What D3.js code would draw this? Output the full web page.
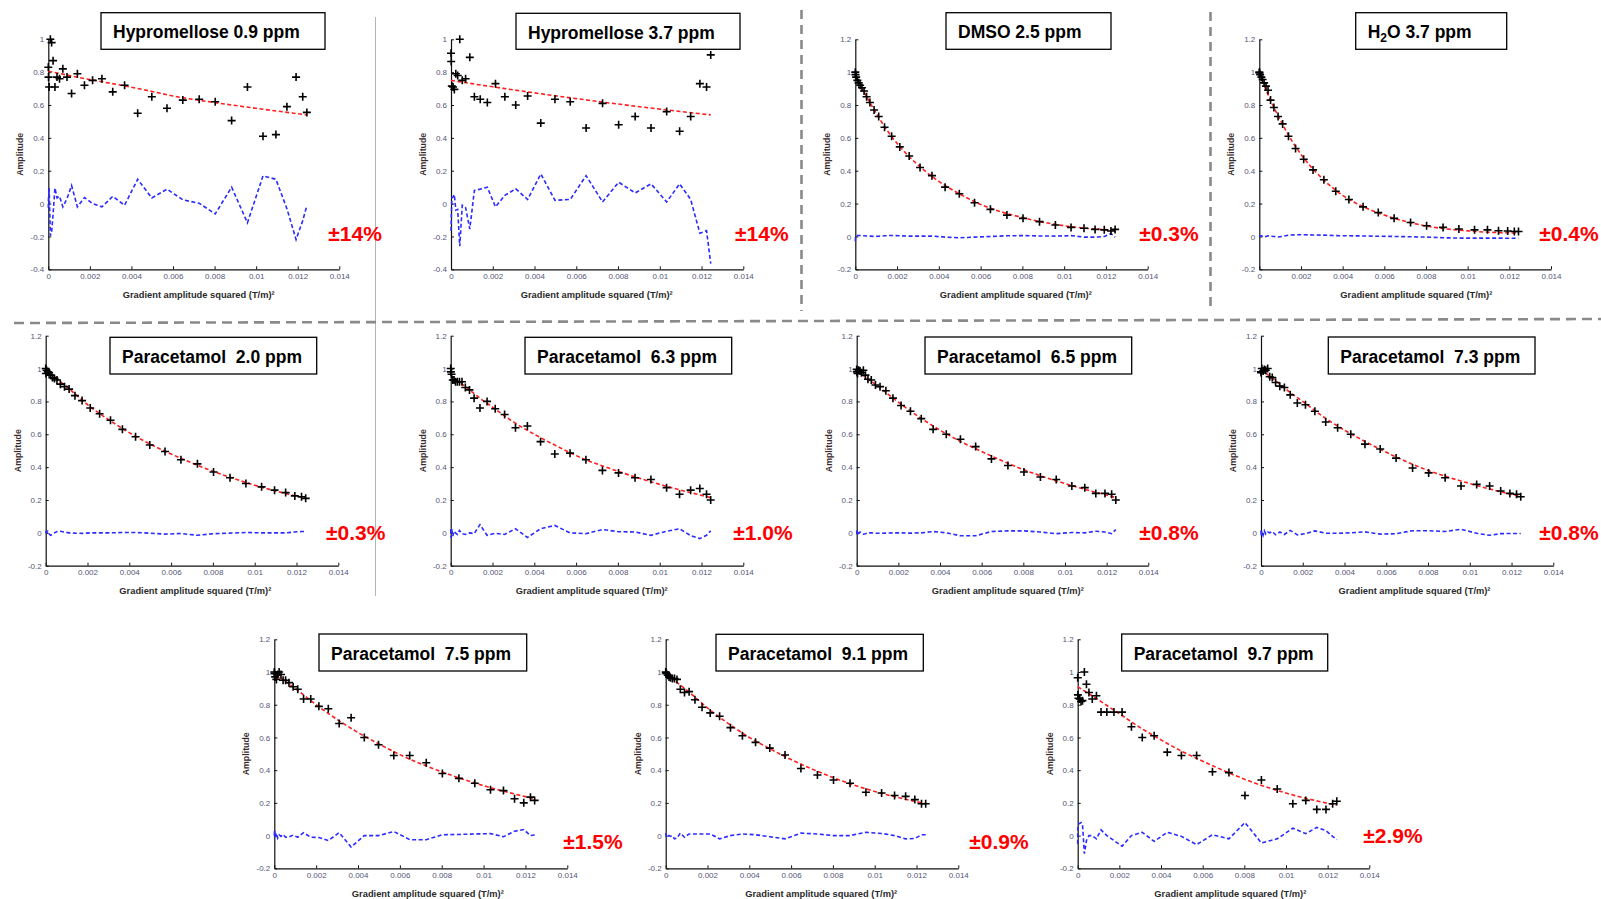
<!DOCTYPE html>
<html><head><meta charset="utf-8">
<script src="https://cdn.jsdelivr.net/npm/d3@7"></script>
<style>
html,body{margin:0;padding:0;background:#fff;}
svg{display:block;}
</style></head>
<body><svg id="chart" width="1601" height="899"></svg>
<script>
// ---------- DATA ----------
const gradientSq = [0, 0.00001, 0.00004, 0.0001, 0.00016, 0.00023, 0.00032, 0.00042, 0.00054, 0.0007, 0.0009, 0.00112,
  0.0014, 0.00174, 0.00213, 0.00258, 0.0031, 0.00367, 0.0043, 0.00498, 0.00571, 0.00647, 0.00726, 0.00803,
  0.00882, 0.00958, 0.01033, 0.01095, 0.01148, 0.01192, 0.01224, 0.01244];
const fitGradientSq = [0, 0.0005, 0.001, 0.0015, 0.002, 0.003, 0.004, 0.005, 0.006, 0.008, 0.010, 0.01244];

const xTickValues = [0, 0.002, 0.004, 0.006, 0.008, 0.010, 0.012, 0.014];
const xTickLabels = ["0", "0.002", "0.004", "0.006", "0.008", "0.01", "0.012", "0.014"];
const yTickValuesA = [-0.4, -0.2, 0, 0.2, 0.4, 0.6, 0.8, 1];
const yTickLabelsA = ["-0.4", "-0.2", "0", "0.2", "0.4", "0.6", "0.8", "1"];
const yTickValuesB = [-0.2, 0, 0.2, 0.4, 0.6, 0.8, 1, 1.2];
const yTickLabelsB = ["-0.2", "0", "0.2", "0.4", "0.6", "0.8", "1", "1.2"];

const titles = ["Hypromellose 0.9 ppm", "Hypromellose 3.7 ppm", "DMSO 2.5 ppm", "H2O 3.7 ppm",
  "Paracetamol  2.0 ppm", "Paracetamol  6.3 ppm", "Paracetamol  6.5 ppm", "Paracetamol  7.3 ppm",
  "Paracetamol  7.5 ppm", "Paracetamol  9.1 ppm", "Paracetamol  9.7 ppm"];
const errorLabels = ["±14%", "±14%", "±0.3%", "±0.4%", "±0.3%", "±1.0%", "±0.8%", "±0.8%", "±1.5%", "±0.9%", "±2.9%"];

const hyp09Amp = [0.83, 0.77, 0.71, 1.0, 0.98, 0.87, 0.71, 0.77, 0.76, 0.82, 0.77, 0.67, 0.79, 0.72, 0.75, 0.76, 0.68, 0.72, 0.55, 0.65, 0.58, 0.63, 0.635, 0.62, 0.505, 0.71, 0.41, 0.42, 0.59, 0.77, 0.65, 0.555];
const hyp09Fit = [0.805, 0.793, 0.78, 0.767, 0.755, 0.732, 0.708, 0.682, 0.655, 0.615, 0.58, 0.54];
const hyp09Res = [-0.025, 0.035, 0.095, -0.195, -0.175, -0.065, 0.095, 0.035, 0.045, -0.02, 0.03, 0.11, -0.02, 0.037, 0.0, -0.02, 0.044, -0.01, 0.148, 0.034, 0.088, 0.023, 0.002, -0.063, 0.10, -0.117, 0.169, 0.148, -0.031, -0.219, -0.104, -0.013];

const hyp37Amp = [0.915, 0.865, 0.715, 0.71, 0.695, 0.79, 0.78, 1.0, 0.75, 0.76, 0.89, 0.65, 0.635, 0.615, 0.73, 0.65, 0.60, 0.655, 0.49, 0.635, 0.62, 0.46, 0.61, 0.48, 0.53, 0.46, 0.56, 0.44, 0.53, 0.73, 0.71, 0.905];
const hyp37Fit = [0.75, 0.74, 0.73, 0.72, 0.711, 0.692, 0.674, 0.656, 0.639, 0.606, 0.575, 0.54];
const hyp37Res = [-0.165, -0.115, 0.035, 0.04, 0.055, -0.04, -0.035, -0.26, -0.01, -0.025, -0.155, 0.08, 0.088, 0.10, -0.02, 0.05, 0.09, 0.025, 0.18, 0.02, 0.025, 0.17, 0.01, 0.13, 0.065, 0.12, 0.01, 0.12, 0.025, -0.18, -0.165, -0.365];

const dmsoAmp = [1.0, 0.985, 0.97, 0.95, 0.935, 0.92, 0.905, 0.885, 0.85, 0.815, 0.77, 0.73, 0.665, 0.61, 0.545, 0.49, 0.42, 0.37, 0.30, 0.26, 0.205, 0.165, 0.13, 0.11, 0.09, 0.07, 0.055, 0.05, 0.043, 0.04, 0.033, 0.043];
const dmsoFit = [0.985, 0.86, 0.75, 0.65, 0.567, 0.435, 0.335, 0.258, 0.195, 0.115, 0.065, 0.038];
const dmsoRes = [-0.03, 0.0, 0.005, 0.005, 0.006, 0.006, 0.005, 0.004, 0.003, 0.002, 0.0, 0.001, 0.004, 0.006, 0.004, 0.002, 0.002, 0.002, -0.004, -0.008, -0.004, 0.0, 0.004, 0.005, 0.003, 0.002, 0.005, -0.004, -0.004, 0.0, 0.018, -0.005];

const h2oAmp = [1.0, 0.995, 0.985, 0.97, 0.955, 0.935, 0.915, 0.89, 0.83, 0.785, 0.73, 0.685, 0.61, 0.535, 0.47, 0.405, 0.345, 0.275, 0.225, 0.18, 0.145, 0.11, 0.085, 0.065, 0.055, 0.045, 0.04, 0.04, 0.035, 0.033, 0.03, 0.03];
const h2oFit = [0.99, 0.84, 0.71, 0.595, 0.5, 0.355, 0.25, 0.18, 0.13, 0.064, 0.034, 0.02];
const h2oRes = [0, 0.002, 0.005, 0.004, 0.0, -0.004, 0.0, 0.004, 0.002, 0.0, -0.003, 0.0, 0.008, 0.01, 0.01, 0.009, 0.008, 0.005, 0.004, 0.003, 0.001, 0.0, -0.002, -0.004, -0.008, -0.01, -0.01, -0.01, -0.01, -0.011, -0.011, -0.011];

const p20Amp = [1.0, 0.97, 0.99, 0.98, 0.975, 0.96, 0.945, 0.94, 0.93, 0.905, 0.89, 0.875, 0.835, 0.805, 0.76, 0.725, 0.685, 0.63, 0.585, 0.535, 0.495, 0.445, 0.42, 0.37, 0.335, 0.30, 0.28, 0.26, 0.245, 0.225, 0.22, 0.21];
const p20Fit = [0.995, 0.94, 0.89, 0.835, 0.78, 0.69, 0.61, 0.54, 0.48, 0.375, 0.29, 0.21];
const p20Res = [0, 0.005, 0.0, 0.01, -0.005, -0.015, -0.01, 0.0, 0.008, 0.01, 0.005, 0.0, -0.002, -0.003, 0, 0, 0, 0.002, 0.002, -0.002, -0.008, -0.004, -0.015, -0.005, -0.002, 0.002, 0, 0, 0.0, 0.005, 0.008, 0.008];

const p63Amp = [1.0, 0.98, 0.965, 0.93, 0.93, 0.92, 0.92, 0.92, 0.92, 0.885, 0.87, 0.82, 0.76, 0.80, 0.755, 0.72, 0.64, 0.65, 0.555, 0.48, 0.485, 0.445, 0.38, 0.365, 0.335, 0.325, 0.275, 0.235, 0.26, 0.27, 0.235, 0.20];
const p63Fit = [0.96, 0.91, 0.86, 0.81, 0.765, 0.675, 0.6, 0.533, 0.47, 0.375, 0.295, 0.215];
const p63Res = [0.02, -0.03, 0.03, -0.02, 0.01, 0.0, -0.01, 0.015, -0.005, -0.01, 0.0, -0.005, 0.05, -0.015, -0.003, -0.01, 0.025, -0.028, 0.025, 0.045, 0.0, -0.005, 0.02, 0.007, 0.005, -0.015, 0.01, 0.025, -0.017, -0.035, -0.015, 0.012];

const p65Amp = [0.995, 0.98, 0.97, 0.99, 0.985, 0.975, 0.99, 0.96, 0.935, 0.93, 0.90, 0.89, 0.865, 0.82, 0.775, 0.74, 0.695, 0.63, 0.60, 0.57, 0.525, 0.45, 0.41, 0.37, 0.34, 0.325, 0.285, 0.275, 0.24, 0.24, 0.235, 0.20];
const p65Fit = [0.99, 0.94, 0.895, 0.845, 0.795, 0.705, 0.625, 0.555, 0.495, 0.385, 0.3, 0.215];
const p65Res = [0.015, -0.01, -0.015, 0.0, 0.005, -0.005, -0.008, -0.005, 0.0, 0.0, -0.002, -0.003, -0.002, 0.0, 0.0, -0.002, 0.0, 0.008, 0.0, -0.018, -0.018, 0.008, 0.012, 0.012, 0.005, -0.005, 0.002, 0.0, 0.01, 0.005, -0.005, 0.02];

const p73Amp = [0.98, 0.975, 1.0, 0.985, 0.995, 0.99, 1.0, 0.95, 0.945, 0.915, 0.893, 0.885, 0.84, 0.79, 0.78, 0.74, 0.675, 0.64, 0.60, 0.54, 0.51, 0.455, 0.395, 0.365, 0.335, 0.285, 0.295, 0.285, 0.255, 0.24, 0.235, 0.22];
const p73Fit = [0.995, 0.945, 0.895, 0.845, 0.8, 0.705, 0.625, 0.555, 0.49, 0.38, 0.3, 0.22];
const p73Res = [0.015, -0.02, 0.01, -0.015, 0.012, -0.008, 0.005, 0.0, 0.008, -0.012, 0.005, -0.01, 0.015, -0.012, -0.005, 0.012, -0.002, -0.003, 0.0, 0.006, -0.008, -0.005, 0.013, 0.013, 0.008, 0.022, -0.003, -0.015, -0.005, -0.004, -0.004, -0.004];

const p75Amp = [1.0, 0.99, 0.97, 0.955, 0.985, 1.0, 0.985, 0.95, 0.95, 0.935, 0.91, 0.895, 0.835, 0.835, 0.79, 0.775, 0.685, 0.72, 0.60, 0.555, 0.49, 0.49, 0.445, 0.38, 0.35, 0.32, 0.28, 0.275, 0.225, 0.20, 0.235, 0.215];
const p75Fit = [0.99, 0.945, 0.9, 0.85, 0.8, 0.71, 0.63, 0.56, 0.495, 0.39, 0.305, 0.225];
const p75Res = [0.0, 0.035, -0.01, 0.015, -0.015, 0.005, -0.005, 0.007, -0.01, -0.008, 0.003, -0.01, 0.018, -0.01, -0.012, -0.03, 0.018, -0.07, 0.0, 0.0, 0.025, -0.025, -0.025, 0.005, 0.007, 0.01, 0.012, -0.007, 0.027, 0.037, 0.0, 0.004];

const p91Amp = [1.0, 0.995, 0.99, 0.98, 0.97, 0.965, 0.96, 0.96, 0.955, 0.895, 0.875, 0.88, 0.83, 0.785, 0.75, 0.73, 0.66, 0.61, 0.57, 0.535, 0.493, 0.41, 0.37, 0.34, 0.32, 0.265, 0.26, 0.245, 0.24, 0.22, 0.195, 0.195];
const p91Fit = [0.99, 0.94, 0.89, 0.835, 0.78, 0.685, 0.6, 0.53, 0.465, 0.355, 0.27, 0.195];
const p91Res = [0.015, 0.005, -0.01, 0.0, 0.0, -0.005, 0.0, -0.02, -0.015, 0.015, -0.01, 0.01, 0.01, 0.01, 0.01, -0.02, 0.0, 0.01, 0.005, -0.007, -0.02, 0.015, 0.01, 0.0, 0.0, 0.02, 0.013, 0.0, -0.02, -0.018, 0.005, 0.005];

const p97Amp = [0.965, 0.86, 0.84, 0.835, 0.82, 0.825, 1.0, 0.925, 0.875, 0.835, 0.855, 0.755, 0.755, 0.755, 0.755, 0.665, 0.60, 0.61, 0.51, 0.49, 0.49, 0.39, 0.385, 0.245, 0.34, 0.285, 0.195, 0.215, 0.16, 0.16, 0.195, 0.21];
const p97Fit = [0.91, 0.87, 0.83, 0.787, 0.745, 0.66, 0.585, 0.515, 0.455, 0.345, 0.26, 0.185];
const p97Res = [-0.05, 0.05, 0.07, 0.075, 0.08, 0.07, -0.11, -0.03, 0.0, 0.0, -0.02, 0.035, 0.0, -0.03, -0.065, 0.0, 0.02, -0.035, 0.02, -0.005, -0.055, 0.005, -0.02, 0.08, -0.045, -0.02, 0.045, 0.012, 0.05, 0.03, -0.005, -0.025];

const panelAmps = [hyp09Amp, hyp37Amp, dmsoAmp, h2oAmp, p20Amp, p63Amp, p65Amp, p73Amp, p75Amp, p91Amp, p97Amp];
const panelFits = [hyp09Fit, hyp37Fit, dmsoFit, h2oFit, p20Fit, p63Fit, p65Fit, p73Fit, p75Fit, p91Fit, p97Fit];
const panelRes = [hyp09Res, hyp37Res, dmsoRes, h2oRes, p20Res, p63Res, p65Res, p73Res, p75Res, p91Res, p97Res];

// ---------- LAYOUT (positions only) ----------
const layout = [
  {ax:[48.3, 339.3, 39.3, 269.3], yset:"A", box:[101, 12.7, 224, 36.6], err:[328.3, 241], xl:[198.7, 298]},
  {ax:[451, 743.3, 39.3, 269.3], yset:"A", box:[516, 13.3, 224, 36], err:[735, 241], xl:[596.7, 298]},
  {ax:[855.3, 1147.7, 39.3, 269.3], yset:"B", box:[946, 12.7, 165, 36.6], err:[1139.3, 241], xl:[1015.8, 298]},
  {ax:[1259.3, 1551, 39.3, 269.3], yset:"B", box:[1355.7, 12.7, 151, 36.6], err:[1539.3, 241], xl:[1416.3, 298]},
  {ax:[45.7, 338.3, 335.7, 565.7], yset:"B", box:[110, 337.3, 206.7, 36.7], err:[326, 540], xl:[195.3, 594]},
  {ax:[450.7, 743.3, 335.7, 565.7], yset:"B", box:[525, 337.3, 206.7, 36.7], err:[733.3, 540], xl:[591.7, 594]},
  {ax:[856.7, 1148.3, 335.7, 565.7], yset:"B", box:[925, 337, 206.7, 37], err:[1139.3, 540], xl:[1007.8, 594]},
  {ax:[1261, 1553.3, 335.7, 565.7], yset:"B", box:[1328.3, 337, 206.7, 37], err:[1539.3, 540], xl:[1414.5, 594]},
  {ax:[274.3, 567.3, 639.3, 868.3], yset:"B", box:[319, 634, 207.7, 37], err:[563.3, 849.3], xl:[427.8, 896.5]},
  {ax:[665.7, 958.3, 639.3, 868.3], yset:"B", box:[716, 634.3, 207.3, 36.7], err:[969.3, 849.3], xl:[821.2, 896.5]},
  {ax:[1077.7, 1369.3, 639.3, 868.3], yset:"B", box:[1121.7, 634, 206, 37], err:[1363.3, 842.7], xl:[1230.3, 896.5]}
];

// ---------- DRAW ----------
const svg = d3.select("#chart");
svg.append("rect").attr("width", 1601).attr("height", 899).attr("fill", "#fff");

// separators
svg.append("line").attr("x1", 375.5).attr("x2", 375.5).attr("y1", 17).attr("y2", 596)
  .attr("stroke", "#b4b4b4").attr("stroke-width", 1);
[[801.5, 10, 311], [1210.5, 12, 311]].forEach(s => {
  svg.append("line").attr("x1", s[0]).attr("x2", s[0]).attr("y1", s[1]).attr("y2", s[2])
    .attr("stroke", "#8a8a8a").attr("stroke-width", 2.6).attr("stroke-dasharray", "9,6");
});
svg.append("line").attr("x1", 14).attr("x2", 1601).attr("y1", 323).attr("y2", 319)
  .attr("stroke", "#8a8a8a").attr("stroke-width", 2.6).attr("stroke-dasharray", "10,6");

const tickFont = "'Liberation Sans', Arial, sans-serif";
const boldFont = "'Liberation Sans', Arial, sans-serif";

layout.forEach((L, i) => {
  const [x0, x1, yT, yB] = L.ax;
  const yVals = L.yset === "A" ? yTickValuesA : yTickValuesB;
  const yLabs = L.yset === "A" ? yTickLabelsA : yTickLabelsB;
  const x = d3.scaleLinear().domain([0, 0.014]).range([x0, x1]);
  const y = d3.scaleLinear().domain([yVals[0], yVals[yVals.length - 1]]).range([yB, yT]);
  const g = svg.append("g");

  // axes
  const xa = g.append("g").attr("transform", `translate(0,${yB})`)
    .call(d3.axisBottom(x).tickValues(xTickValues).tickFormat((d, j) => xTickLabels[j])
      .tickSizeInner(-3).tickSizeOuter(0).tickPadding(4));
  const ya = g.append("g").attr("transform", `translate(${x0},0)`)
    .call(d3.axisLeft(y).tickValues(yVals).tickFormat((d, j) => yLabs[j])
      .tickSizeInner(-3).tickSizeOuter(0).tickPadding(4));
  [xa, ya].forEach(a => {
    a.selectAll("path.domain").attr("stroke", "#111").attr("stroke-width", 1.2);
    a.selectAll(".tick line").attr("stroke", "#111");
    a.selectAll("text").attr("font-family", tickFont).attr("font-size", 8).attr("fill", "#555578");
  });

  // fit line (red dashed)
  const fitData = fitGradientSq.map((gx, j) => [gx, panelFits[i][j]]);
  g.append("path").datum(fitData)
    .attr("d", d3.line().x(d => x(d[0])).y(d => y(d[1])).curve(d3.curveMonotoneX))
    .attr("fill", "none").attr("stroke", "#ff1f1f").attr("stroke-width", 1.6)
    .attr("stroke-dasharray", "4,2.5");

  // residuals (blue dashed)
  const resData = gradientSq.map((gx, j) => [gx, panelRes[i][j]]);
  g.append("path").datum(resData)
    .attr("d", d3.line().x(d => x(d[0])).y(d => y(d[1])))
    .attr("fill", "none").attr("stroke", "#2b2bff").attr("stroke-width", 1.6)
    .attr("stroke-dasharray", "4,2.5");

  // data crosses
  const ptData = gradientSq.map((gx, j) => [gx, panelAmps[i][j]]);
  g.append("g").selectAll("path").data(ptData).join("path")
    .attr("transform", d => `translate(${x(d[0])},${y(d[1])})`)
    .attr("d", "M-4,0H4M0,-4V4")
    .attr("stroke", "#000").attr("stroke-width", 1.6).attr("fill", "none");

  // axis labels
  g.append("text").attr("transform", `translate(${x0 - 25},${(yT + yB) / 2}) rotate(-90)`)
    .attr("text-anchor", "middle").attr("font-family", boldFont).attr("font-weight", "bold")
    .attr("font-size", 8.8).attr("fill", "#3a2c2c").text("Amplitude");
  g.append("text").attr("x", L.xl[0]).attr("y", L.xl[1])
    .attr("text-anchor", "middle").attr("font-family", boldFont).attr("font-weight", "bold")
    .attr("font-size", 9.3).attr("fill", "#2a2a2a").text("Gradient amplitude squared (T/m)²");

  // title box
  const [bx, by, bw, bh] = L.box;
  g.append("rect").attr("x", bx).attr("y", by).attr("width", bw).attr("height", bh)
    .attr("fill", "#fff").attr("stroke", "#000").attr("stroke-width", 1.3);
  const tt = g.append("text").attr("x", bx + 12).attr("y", by + 25.5)
    .attr("font-family", boldFont).attr("font-weight", "bold").attr("font-size", 17.5)
    .attr("fill", "#000").style("white-space", "pre");
  const t = titles[i];
  if (t.startsWith("H2O")) {
    tt.append("tspan").text("H");
    tt.append("tspan").attr("dy", 4).attr("font-size", 12).text("2");
    tt.append("tspan").attr("dy", -4).text(t.slice(2));
  } else {
    tt.text(t);
  }

  // error label
  g.append("text").attr("x", L.err[0]).attr("y", L.err[1])
    .attr("font-family", boldFont).attr("font-weight", "bold").attr("font-size", 21)
    .attr("fill", "#ff0000").text(errorLabels[i]);
});
</script>
</body></html>
